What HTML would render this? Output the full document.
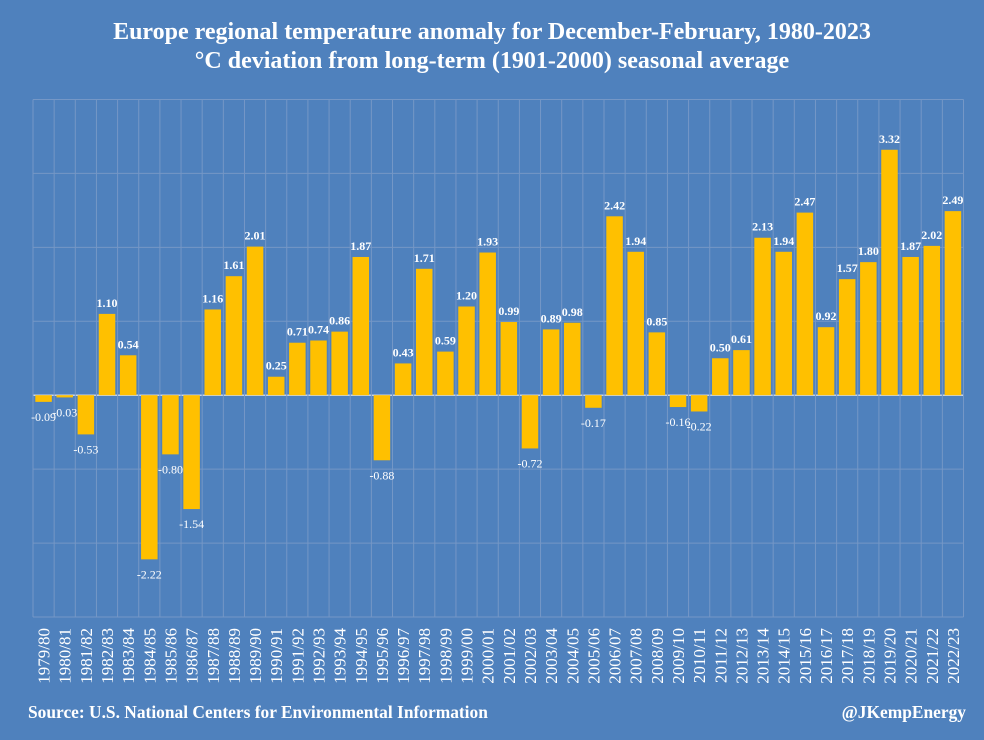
<!DOCTYPE html>
<html><head><meta charset="utf-8"><style>
body{margin:0;background:#4f81bd;}
svg{display:block;font-family:"Liberation Serif",serif;}
</style></head><body>
<svg id="chart" width="984" height="740" viewBox="0 0 984 740" xmlns="http://www.w3.org/2000/svg">
<rect width="984" height="740" fill="#4f81bd"/>
<text x="492" y="39" text-anchor="middle" fill="#fff" font-weight="bold" font-size="24">Europe regional temperature anomaly for December-February, 1980-2023</text>
<text x="492" y="68" text-anchor="middle" fill="#fff" font-weight="bold" font-size="24">°C deviation from long-term (1901-2000) seasonal average</text>
<g id="grid"></g>
<g id="bars"></g>
<g id="xlabels"></g>
<text x="28" y="718" fill="#fff" font-weight="bold" font-size="17.4">Source: U.S. National Centers for Environmental Information</text>
<text x="966" y="718" text-anchor="end" fill="#fff" font-weight="bold" font-size="17.4">@JKempEnergy</text>
</svg>
<script>
const categories=["1979/80","1980/81","1981/82","1982/83","1983/84","1984/85","1985/86","1986/87","1987/88","1988/89","1989/90","1990/91","1991/92","1992/93","1993/94","1994/95","1995/96","1996/97","1997/98","1998/99","1999/00","2000/01","2001/02","2002/03","2003/04","2004/05","2005/06","2006/07","2007/08","2008/09","2009/10","2010/11","2011/12","2012/13","2013/14","2014/15","2015/16","2016/17","2017/18","2018/19","2019/20","2020/21","2021/22","2022/23"];
const values=[-0.09,-0.03,-0.53,1.10,0.54,-2.22,-0.80,-1.54,1.16,1.61,2.01,0.25,0.71,0.74,0.86,1.87,-0.88,0.43,1.71,0.59,1.20,1.93,0.99,-0.72,0.89,0.98,-0.17,2.42,1.94,0.85,-0.16,-0.22,0.50,0.61,2.13,1.94,2.47,0.92,1.57,1.80,3.32,1.87,2.02,2.49];
const yTicks=[-3,-2,-1,0,1,2,3,4];
const NS="http://www.w3.org/2000/svg";
const L=33,R=963.5,T=99.5,B=617,yMin=-3,yMax=4;
const band=(R-L)/categories.length;
function y(v){return B-(v-yMin)/(yMax-yMin)*(B-T);}
function x(i){return L+i*band;}
function mk(tag,attrs,parent){const e=document.createElementNS(NS,tag);for(const k in attrs)e.setAttribute(k,attrs[k]);parent.appendChild(e);return e;}
const grid=document.getElementById('grid'),bars=document.getElementById('bars'),xl=document.getElementById('xlabels');
yTicks.forEach(t=>{
  const ln=mk('line',{x1:L,x2:R,y1:y(t),y2:y(t),stroke:t===0?'#c8d4e6':'#7597c6','stroke-width':t===0?1.5:1},grid);
  
  
});
for(let i=0;i<=categories.length;i++){
  const ln=mk('line',{x1:x(i),x2:x(i),y1:T,y2:B,stroke:'#7597c6','stroke-width':1},grid);
  
  
}
const bw=16.5;
categories.forEach((c,i)=>{
  const v=values[i],cx=x(i)+band/2;
  const y0=y(0),y1=y(v);
  const r=mk('rect',{x:cx-bw/2,y:Math.min(y0,y1),width:bw,height:Math.abs(y1-y0),fill:'#ffc000'},bars);
  
  
  const t=mk('text',{x:cx,y:v>=0?y1-7:y1+19,'text-anchor':'middle',fill:'#fff','font-size':12,'font-weight':v>=0?'bold':'normal'},bars);
  t.textContent=v.toFixed(2);
  
  
  const lb=mk('text',{x:0,y:0,'text-anchor':'end',fill:'#fff','font-size':17,transform:`translate(${cx+6},628) rotate(-90)`},xl);
  lb.textContent=c;
  
  
});
</script>
</body></html>
